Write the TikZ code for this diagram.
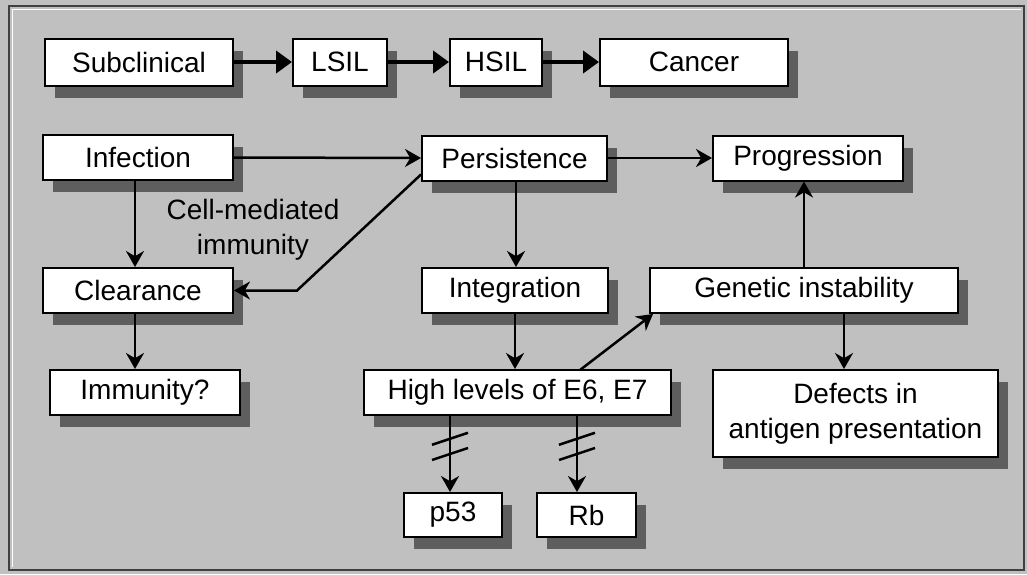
\documentclass[tikz,border=0pt]{standalone}
\usepackage{fontspec}
\setmainfont{Liberation Sans}
\usetikzlibrary{arrows.meta,shadows,calc}
\definecolor{bggray}{HTML}{C0C0C0}
\definecolor{shadowgray}{HTML}{5E5E5E}
\definecolor{framegray}{HTML}{404040}
\tikzset{
  box/.style={draw=black, line width=2pt, fill=white, inner sep=0pt,
    font=\fontsize{28}{35}\selectfont, align=center,
    drop shadow={shadow xshift=10pt, shadow yshift=-12pt, fill=shadowgray, opacity=1}},
  arr/.style={draw=black, line width=2.5pt, -{Stealth[length=16pt,width=18pt]}},
  bigarr/.style={draw=black, line width=4pt, -{Triangle[length=16pt,width=22pt]}},
  slash/.style={draw=black, line width=2.5pt},
  lbl/.style={font=\fontsize{28}{35}\selectfont, align=center}
}
\begin{document}
\begin{tikzpicture}[x=1pt,y=-1pt]
\useasboundingbox (0,0) rectangle (1027,574);
\fill[bggray] (0,0) rectangle (1027,574);
\draw[framegray, line width=2.5pt] (9,6) rectangle (1024,570);
\draw[white, line width=1pt] (12,9) -- (1021,9);
\draw[white, line width=1pt] (12,9) -- (12,567);

% top row
\node[box, minimum width=188pt, minimum height=47pt] (sub) at (139,62) {Subclinical};
\node[box, minimum width=94pt, minimum height=47pt] (lsil) at (340,62) {LSIL};
\node[box, minimum width=92pt, minimum height=47pt] (hsil) at (496,62) {HSIL};
\node[box, minimum width=188pt, minimum height=47pt] (cancer) at (694,62) {Cancer};

% second row
\node[box, minimum width=190pt, minimum height=45pt] (infection) at (138,157.5) {Infection};
\node[box, minimum width=185pt, minimum height=45pt] (persistence) at (514.5,158) {Persistence};
\node[box, minimum width=190pt, minimum height=45pt] (progression) at (808,158) {Progression};

% third row
\node[box, minimum width=190pt, minimum height=45pt] (clearance) at (138,290.5) {Clearance};
\node[box, minimum width=186pt, minimum height=45pt] (integration) at (515,290.5) {Integration};
\node[box, minimum width=308pt, minimum height=45pt] (genetic) at (804,290.5) {Genetic instability};

% fourth row
\node[box, minimum width=190pt, minimum height=45pt] (immunity) at (145,392.5) {Immunity?};
\node[box, minimum width=307pt, minimum height=45pt] (high) at (517.5,392.5) {High levels of E6, E7};
\node[box, minimum width=285pt, minimum height=87pt] (defects) at (855.5,413.5) {Defects in\\antigen presentation};

% bottom row
\node[box, minimum width=98pt, minimum height=44pt] (p53) at (453,515) {p53};
\node[box, minimum width=99pt, minimum height=44pt] (rb) at (586.5,515) {Rb};

% label
\node[lbl] (cmi) at (253,229.5) {Cell-mediated\\immunity};

% top arrows
\draw[bigarr] (sub.east) -- (lsil.west);
\draw[bigarr] (lsil.east) -- (hsil.west);
\draw[bigarr] (hsil.east) -- (cancer.west);

% connectors
\draw[arr] (infection.east) -- (persistence.west);
\draw[arr] (persistence.east) -- (progression.west);
\draw[arr] (infection.south -| 135,0) -- (clearance.north -| 135,0);
\draw[arr] (clearance.south -| 135,0) -- (immunity.north -| 135,0);
\coordinate (cm) at (297,290.5);
\draw[arr] ([yshift=7pt]persistence.south west) -- (cm) -- (clearance.east);
\draw[arr] (persistence.south -| 516,0) -- (integration.north -| 516,0);
\draw[arr] (integration.south -| 515,0) -- (high.north -| 515,0);
\draw[arr] (genetic.north -| 804,0) -- (progression.south -| 804,0);
\draw[arr] (genetic.south -| 844,0) -- (defects.north -| 844,0);
\coordinate (hd) at (580,370);
\draw[arr] (hd) -- ([xshift=4pt]genetic.south west);

\draw[arr] (high.south -| 450,0) -- node[pos=0.3, coordinate] (s1) {} node[pos=0.5, coordinate] (s2) {} (p53.north -| 450,0);
\draw[arr] (high.south -| 577,0) -- node[pos=0.3, coordinate] (s3) {} node[pos=0.5, coordinate] (s4) {} (rb.north -| 577,0);
\draw[slash] ([shift={(-18,6)}]s1) -- ([shift={(18,-6)}]s1);
\draw[slash] ([shift={(-18,6)}]s2) -- ([shift={(18,-6)}]s2);
\draw[slash] ([shift={(-18,6)}]s3) -- ([shift={(18,-6)}]s3);
\draw[slash] ([shift={(-18,6)}]s4) -- ([shift={(18,-6)}]s4);
\end{tikzpicture}
\end{document}
